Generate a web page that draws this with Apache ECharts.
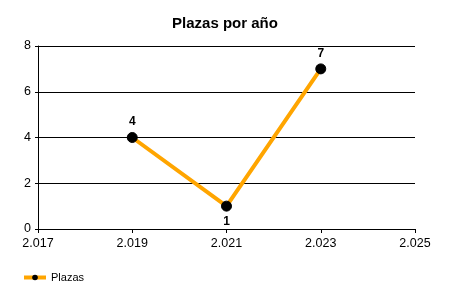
<!DOCTYPE html>
<html><head><meta charset="utf-8">
<script src="https://cdn.jsdelivr.net/npm/echarts@6/dist/echarts.min.js"></script>
<style>html,body{margin:0;padding:0;background:#fff}#c{width:450px;height:300px}</style>
</head><body><div id="c"></div>
<script>
var years = [2019, 2021, 2023];
var plazas = [4, 1, 7];
var labelPos = ['top', 'bottom', 'top'];
var seriesName = 'Plazas';
var titleText = 'Plazas por año';

var chart = echarts.init(document.getElementById('c'), null, {renderer: 'canvas'});
var FONT2 = 'Liberation Sans, Arial, sans-serif';
chart.setOption({
  animation: false,
  title: {text: titleText, left: 'center', top: 11,
    textStyle: {fontFamily: FONT2, fontSize: 15, fontWeight: 'bold', color: '#000'}},
  grid: {left: 38, right: 35, top: 46, bottom: 71, containLabel: false},
  legend: {left: 17, top: 267, itemWidth: 22, itemHeight: 7, itemGap: 5,
    lineStyle: {width: 4},
    data: [{name: seriesName}],
    textStyle: {fontFamily: FONT2, fontSize: 11, color: '#000'}},
  xAxis: {type: 'value', min: 2017, max: 2025, interval: 2,
    axisLine: {show: true, lineStyle: {color: '#000', width: 1}},
    axisTick: {show: true, length: 4, lineStyle: {color: '#000'}},
    splitLine: {show: false},
    axisLabel: {fontFamily: FONT2, fontSize: 12.5, color: '#000', margin: 8,
      formatter: function (v) { return (v / 1000).toFixed(3); }}},
  yAxis: {type: 'value', min: 0, max: 8, interval: 2,
    axisLine: {show: true, lineStyle: {color: '#000', width: 1}},
    axisTick: {show: true, length: 3, lineStyle: {color: '#000'}},
    splitLine: {show: true, lineStyle: {color: '#000', width: 1}},
    axisLabel: {fontFamily: FONT2, fontSize: 12.5, color: '#000', margin: 7}},
  series: [{
    name: seriesName, type: 'line',
    data: years.map(function (y, i) {
      return {value: [y, plazas[i]], label: {position: labelPos[i]}};
    }),
    lineStyle: {color: '#FFA500', width: 4},
    itemStyle: {color: '#000', borderColor: '#000'},
    symbol: 'circle', symbolSize: 10,
    label: {show: true, fontFamily: FONT2, fontSize: 12, fontWeight: 'bold', color: '#000', distance: 4,
      formatter: function (p) { return p.value[1]; }}
  }]
});
</script>
</body></html>
